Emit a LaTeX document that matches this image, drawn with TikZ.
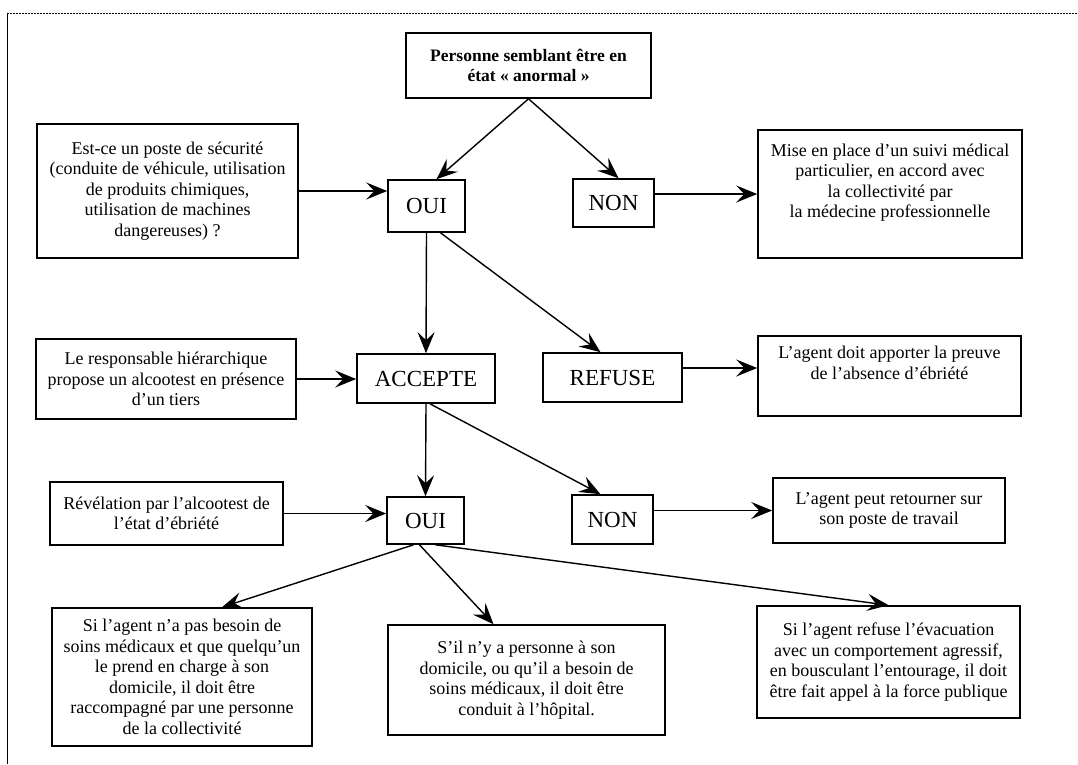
\documentclass[tikz,border=0pt]{standalone}
\usepackage{fontspec}
\setmainfont{Liberation Serif}
\usetikzlibrary{arrows.meta}

\begin{document}
\begin{tikzpicture}[x=1pt, y=-1pt,
    box/.style={draw, line width=1.6pt, align=center, inner sep=3pt,
        font=\fontsize{18}{20.5}\selectfont},
    choice/.style={draw, line width=1.6pt, inner sep=0pt,
        font=\fontsize{23}{25}\selectfont},
    flow/.style={-{Stealth[length=21pt, width=17pt, inset=8pt]}, line width=1.4pt}]
    \useasboundingbox (0,0) rectangle (1078,764);

    % Frame (top dotted edge, left solid edge)
    \coordinate (frameTL) at (7,13);
    \coordinate (frameTR) at (1078,13);
    \coordinate (frameBL) at (7,764);
    \draw[line width=0.8pt, dash pattern=on 2pt off 1pt] (frameTL) -- (frameTR);
    \draw[line width=1pt] (frameTL) -- (frameBL);

    % Start
    \node[box, font=\bfseries\fontsize{17.5}{20}\selectfont, minimum width=245, minimum height=65]
        (start) at (528.5,65.5) {Personne semblant être en\\état «~anormal~»};

    % First row
    \node[box, minimum width=261, minimum height=134] (poste) at (167.5,191)
        {Est-ce un poste de sécurité\\(conduite de véhicule, utilisation\\de produits chimiques,\\utilisation de machines\\dangereuses) ?};
    \node[choice, minimum width=77, minimum height=52] (oui1) at (426.5,206) {OUI};
    \node[choice, minimum width=81, minimum height=48] (non1) at (613.5,203) {NON};
    \node[box, minimum width=264, minimum height=128] (suivi) at (890,194)
        {Mise en place d’un suivi médical\\particulier, en accord avec\\la collectivité par\\la médecine professionnelle\\ \strut};

    % Second row
    \node[box, minimum width=260, minimum height=80] (propose) at (166,379)
        {Le responsable hiérarchique\\propose un alcootest en présence\\d’un tiers};
    \node[choice, minimum width=138, minimum height=49] (accepte) at (426,378.5) {ACCEPTE};
    \node[choice, minimum width=139, minimum height=49] (refuse) at (612.5,377.5) {REFUSE};
    \node[box, minimum width=263, minimum height=80] (preuve) at (889.5,376)
        {L’agent doit apporter la preuve\\de l’absence d’ébriété\\ \strut};

    % Third row
    \node[box, minimum width=233, minimum height=63] (revel) at (166.5,513.5)
        {Révélation par l’alcootest de\\l’état d’ébriété};
    \node[choice, minimum width=77, minimum height=47] (oui2) at (425.5,520.5) {OUI};
    \node[choice, minimum width=81, minimum height=49] (non2) at (612.5,519.5) {NON};
    \node[box, minimum width=232, minimum height=65] (retour) at (889,510.5)
        {L’agent peut retourner sur\\son poste de travail};

    % Outcomes
    \node[box, minimum width=260, minimum height=138] (raccomp) at (182,677)
        {Si l’agent n’a pas besoin de\\soins médicaux et que quelqu’un\\le prend en charge à son\\domicile, il doit être\\raccompagné par une personne\\de la collectivité};
    \node[box, minimum width=277, minimum height=110] (hopital) at (526.5,680)
        {S’il n’y a personne à son\\domicile, ou qu’il a besoin de\\soins médicaux, il doit être\\conduit à l’hôpital.};
    \node[box, minimum width=263, minimum height=112] (force) at (888.5,662)
        {Si l’agent refuse l’évacuation\\avec un comportement agressif,\\en bousculant l’entourage, il doit\\être fait appel à la force publique};

    % Arrows
    \draw[flow] (start.south) -- ([xshift=10pt]oui1.north);
    \draw[flow] (start.south) -- ([xshift=5pt]non1.north);
    \draw[flow] (poste.east) -- (oui1.west |- poste.east);
    \draw[flow] (non1.east |- suivi.west) -- (suivi.west);

    \draw[flow] (oui1.south) -- (accepte.north);
    \draw[flow] ([xshift=14pt]oui1.south) -- ([xshift=-12pt]refuse.north);
    \draw[flow] (propose.east) -- (accepte.west |- propose.east);
    \draw[flow] ([yshift=9.5pt]refuse.east) -- ([yshift=8pt]preuve.west);

    \draw[flow] (accepte.south) -- (oui2.north);
    \draw[flow] ([xshift=4pt]accepte.south) -- ([xshift=-12pt]non2.north);
    \draw[flow] (revel.east) -- (oui2.west |- revel.east);
    \draw[flow] (non2.east |- retour.west) -- (retour.west);

    \draw[flow] ([xshift=-12pt]oui2.south) -- ([xshift=40pt]raccomp.north);
    \draw[flow] ([xshift=-6pt]oui2.south) -- ([xshift=-33pt]hopital.north);
    \draw[flow] ([xshift=10pt]oui2.south) -- (force.north);
\end{tikzpicture}
\end{document}
